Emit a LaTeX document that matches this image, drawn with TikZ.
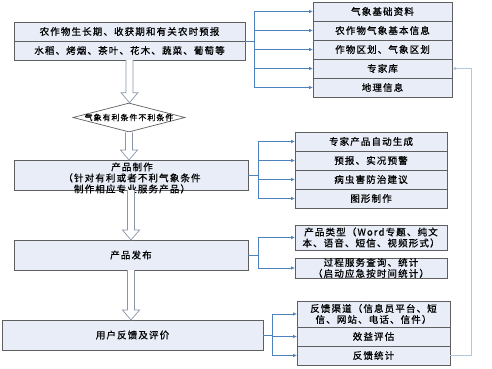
\documentclass[tikz,border=0pt]{standalone}
\usepackage{fontspec}
\setmainfont{Noto Sans CJK SC}[LetterSpace=12, FakeBold=0.8]
\usetikzlibrary{positioning,calc,shapes.geometric,arrows.meta}

\definecolor{boxfill}{HTML}{E8EDF7}
\definecolor{boxline}{HTML}{5F5F5F}
\definecolor{linkblue}{HTML}{4F81BD}
\definecolor{backline}{HTML}{B4C6DE}
\definecolor{hollowline}{HTML}{8A96A8}

\tikzset{
  cell/.style={draw=boxline, fill=boxfill, line width=0.8pt, inner sep=0pt, outer sep=0pt,
    minimum height=19, align=center, font=\fontsize{9.5}{11}\selectfont},
  link/.style={draw=linkblue, line width=0.7pt, -{Latex[length=4pt,width=3.5pt]}},
  back/.style={draw=backline, line width=0.9pt, -{Latex[length=4pt,width=3.5pt,fill=linkblue]}},
  hollow/.style={draw=hollowline, fill=white, line width=0.7pt, line join=miter},
  cond/.style={diamond, draw=boxline, fill=white, line width=0.7pt, inner sep=0pt,
    minimum width=112, minimum height=29}
}

% big open arrow from one box down to the next
\newcommand{\hollowarrow}[2]{%
  \draw[hollow] let \p1=(#1.south), \p2=(#2.north) in
    (\x1-3.5pt,\y1) -- (\x1-3.5pt,\y2+10pt) -- (\x1-8.5pt,\y2+10pt) -- (\x1,\y2)
    -- (\x1+8.5pt,\y2+10pt) -- (\x1+3.5pt,\y2+10pt) -- (\x1+3.5pt,\y1);}

\begin{document}
\begin{tikzpicture}[x=1pt, y=-1pt]
  \useasboundingbox (0,0) rectangle (492,368);

  % Crops
  \node[cell, minimum width=231] (crop1) at (129.5,31.5) {农作物生长期、收获期和有关农时预报};
  \node[cell, minimum width=231, below=0pt of crop1] (crop2) {水稻、烤烟、茶叶、花木、蔬菜、葡萄等};

  % Base data
  \foreach \t [count=\i] in {气象基础资料, 农作物气象基本信息, 作物区划、气象区划, 专家库, 地理信息} {
    \node[cell, minimum width=139] (base\i) at (382.5, {19*\i-7.5}) {\t};
    \draw[link] (crop1.south east) -- ++(9,0) |- (base\i.west);
  }

  % Condition
  \node[cond] (cond) at (129,117.5) {};
  \node[font=\fontsize{8}{9}\selectfont] (condtext) at (cond) {气象有利条件不利条件};

  % Product making
  \node[cell, minimum width=234, minimum height=30] (make) at (131,175) {};
  \node[font=\fontsize{9.5}{11}\selectfont, align=center] (maketext) at (132,178)
    {产品制作\\（针对有利或者不利气象条件\\制作相应专业服务产品）};
  \foreach \t [count=\i] in {专家产品自动生成, 预报、实况预警, 病虫害防治建议, 图形制作} {
    \node[cell, minimum width=152] (prod\i) at (371, {19*\i+122.5}) {\t};
    \draw[link] (make.east) -- ++(10,0) |- (prod\i.west);
  }

  % Publishing
  \node[cell, minimum width=234, minimum height=30] (pub) at (131,255) {产品发布};
  \node[cell, minimum width=152, minimum height=25] (type) at (371,237.5)
    {产品类型（Word专题、纯文\\本、语音、短信、视频形式）};
  \node[cell, minimum width=152, minimum height=20] (query) at (371,268)
    {过程服务查询、统计\\（启动应急按时间统计）};
  \draw[link] (pub.east) -- ++(10,0) |- (type.west);
  \draw[link] (pub.east) -- ++(10,0) |- (query.west);

  % Feedback
  \node[cell, minimum width=261, minimum height=30] (user) at (132.5,335) {用户反馈及评价};
  \node[cell, minimum width=153, minimum height=26] (fb1) at (373.5,314)
    {反馈渠道（信息员平台、短\\信、网站、电话、信件）};
  \node[cell, minimum width=153, below=0pt of fb1] (fb2) {效益评估};
  \node[cell, minimum width=153, below=0pt of fb2] (fb3) {反馈统计};
  \foreach \n in {fb1,fb2,fb3}
    \draw[link] (user.east) -- ++(9,0) |- (\n.west);

  % back to the expert library
  \draw[back] (fb3.east) -- ++(21,0) |- (base4.east);

  % Main flow
  \hollowarrow{crop2}{cond}
  \hollowarrow{cond}{make}
  \hollowarrow{make}{pub}
  \hollowarrow{pub}{user}
\end{tikzpicture}
\end{document}
